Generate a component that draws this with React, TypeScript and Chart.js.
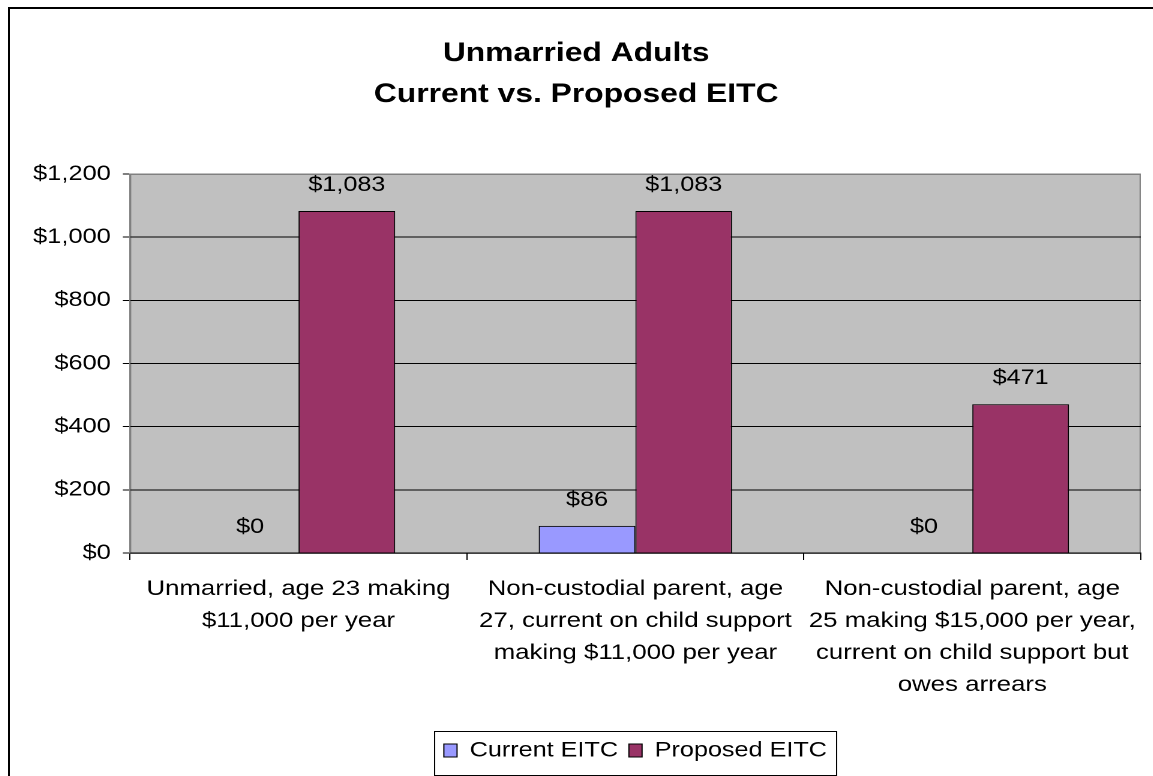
import React, { useEffect, useRef } from "react";
import { Chart, registerables } from "chart.js";

Chart.register(...registerables);

// ---- data ----
const titleLines: string[] = ["Unmarried Adults", "Current vs. Proposed EITC"];
const categories: string[][] = [
  ["Unmarried, age 23 making", "$11,000 per year"],
  ["Non-custodial parent, age", "27, current on child support", "making $11,000 per year"],
  ["Non-custodial parent, age", "25 making $15,000 per year,", "current on child support but", "owes arrears"],
];
const seriesNames: string[] = ["Current EITC", "Proposed EITC"];
const currentEitc: number[] = [0, 86, 0];
const proposedEitc: number[] = [1083, 1083, 471];
const yMin = 0;
const yMax = 1200;
const yStep = 200;

// ---- layout constants ----
const SX = 1.2; // horizontal stretch of the whole drawing
const W = 954;
const H = 768;
const FONT = '"Liberation Sans", Arial, Helvetica, sans-serif';

const fmt = (v: number) => "$" + Math.round(v).toLocaleString("en-US");

const plotBg = {
  id: "plotBg",
  beforeDraw(chart: any) {
    const { ctx, chartArea: a } = chart;
    ctx.save();
    ctx.fillStyle = "#C0C0C0";
    ctx.fillRect(a.left, a.top, a.right - a.left, a.bottom - a.top);
    ctx.strokeStyle = "#808080";
    ctx.lineWidth = 1;
    ctx.strokeRect(a.left + 0.5, a.top + 0.5, a.right - a.left - 1, a.bottom - a.top);
    ctx.restore();
  },
};

const dataLabels = {
  id: "dataLabels",
  afterDatasetsDraw(chart: any) {
    const { ctx } = chart;
    ctx.save();
    ctx.font = `21px ${FONT}`;
    ctx.fillStyle = "#000";
    ctx.textAlign = "center";
    ctx.textBaseline = "alphabetic";
    chart.data.datasets.forEach((ds: any, di: number) => {
      const meta = chart.getDatasetMeta(di);
      meta.data.forEach((bar: any, i: number) => {
        const v = ds.data[i] as number;
        ctx.fillText(fmt(v), bar.x, bar.y - 20);
      });
    });
    ctx.restore();
  },
};

const legendBox = {
  id: "legendBox",
  afterDraw(chart: any) {
    const lg = chart.legend;
    if (!lg || !lg.legendHitBoxes || !lg.legendHitBoxes.length) return;
    const hbs = lg.legendHitBoxes;
    let l = Infinity, r = -Infinity, cy = 0;
    hbs.forEach((h: any) => {
      l = Math.min(l, h.left);
      r = Math.max(r, h.left + h.width);
      cy = h.top + h.height / 2;
    });
    const { ctx } = chart;
    ctx.save();
    ctx.strokeStyle = "#000";
    ctx.lineWidth = 1;
    const x0 = Math.round(l - 8.5) + 0.5;
    const x1 = Math.round(r + 8) + 0.5;
    const y0 = Math.round(cy - 20) + 0.5;
    const y1 = Math.round(cy + 24) + 0.5;
    ctx.strokeRect(x0, y0, x1 - x0, y1 - y0);
    ctx.restore();
  },
};

export default function App() {
  const ref = useRef<HTMLCanvasElement | null>(null);

  useEffect(() => {
    if (!ref.current) return;
    const chart = new Chart(ref.current, {
      type: "bar",
      data: {
        labels: categories,
        datasets: [
          {
            label: seriesNames[0],
            data: currentEitc,
            backgroundColor: "#9999FF",
            borderColor: "#000000",
            borderWidth: 1,
            categoryPercentage: 0.574,
            barPercentage: 1,
          },
          {
            label: seriesNames[1],
            data: proposedEitc,
            backgroundColor: "#993366",
            borderColor: "#000000",
            borderWidth: 1,
            categoryPercentage: 0.574,
            barPercentage: 1,
          },
        ],
      },
      options: {
        animation: false,
        responsive: false,
        devicePixelRatio: 2,
        layout: { padding: { top: 0, left: 0, right: 7, bottom: 5 } },
        plugins: {
          title: {
            display: true,
            text: titleLines,
            color: "#000",
            font: { family: FONT, size: 26.5, weight: "bold", lineHeight: 41 / 26.5 },
            padding: { top: 25, bottom: 59 },
          },
          legend: {
            display: true,
            position: "bottom",
            fullSize: false,
            labels: {
              color: "#000",
              font: { family: FONT, size: 21 },
              boxWidth: 11,
              boxHeight: 13,
              padding: 9,
            },
          },
          tooltip: { enabled: false },
        },
        scales: {
          x: {
            offset: true,
            grid: {
              offset: true,
              drawOnChartArea: false,
              drawTicks: true,
              tickLength: 7,
              color: "#000",
            },
            border: { color: "#000", width: 1 },
            ticks: {
              color: "#000",
              font: { family: FONT, size: 21.5, lineHeight: 32 / 21.5 },
              padding: 13,
              maxRotation: 0,
              minRotation: 0,
              autoSkip: false,
            },
            afterFit: (s: any) => {
              s.height = 178;
            },
          },
          y: {
            min: yMin,
            max: yMax,
            ticks: {
              stepSize: yStep,
              color: "#000",
              font: { family: FONT, size: 21.2 },
              padding: 10,
              callback: (v: any) => fmt(Number(v)),
            },
            grid: {
              color: (c: any) => (c.tick && c.tick.value === yMax ? "#808080" : "#000000"),
              tickColor: "#000",
              tickLength: 6,
            },
            border: { color: "#808080", width: 1 },
            afterFit: (s: any) => {
              s.width = 101.7;
            },
          },
        },
      },
      plugins: [plotBg, dataLabels, legendBox],
    });
    return () => chart.destroy();
  }, []);

  return (
    <div>
      <div style={{ position: "fixed", left: 8, top: 8, width: W * SX, height: H, overflow: "hidden" }}>
        <div
          style={{
            position: "absolute",
            left: 0,
            top: 0,
            width: W,
            height: H,
            transform: `scaleX(${SX})`,
            transformOrigin: "0 0",
          }}
        >
          <canvas ref={ref} width={W} height={H} style={{ width: W, height: H, display: "block" }} />
        </div>
      </div>
      <div style={{ position: "fixed", left: 8, top: 7, width: 1145, height: 2, background: "#000" }} />
      <div style={{ position: "fixed", left: 8, top: 7, width: 2, height: 769, background: "#000" }} />
    </div>
  );
}
